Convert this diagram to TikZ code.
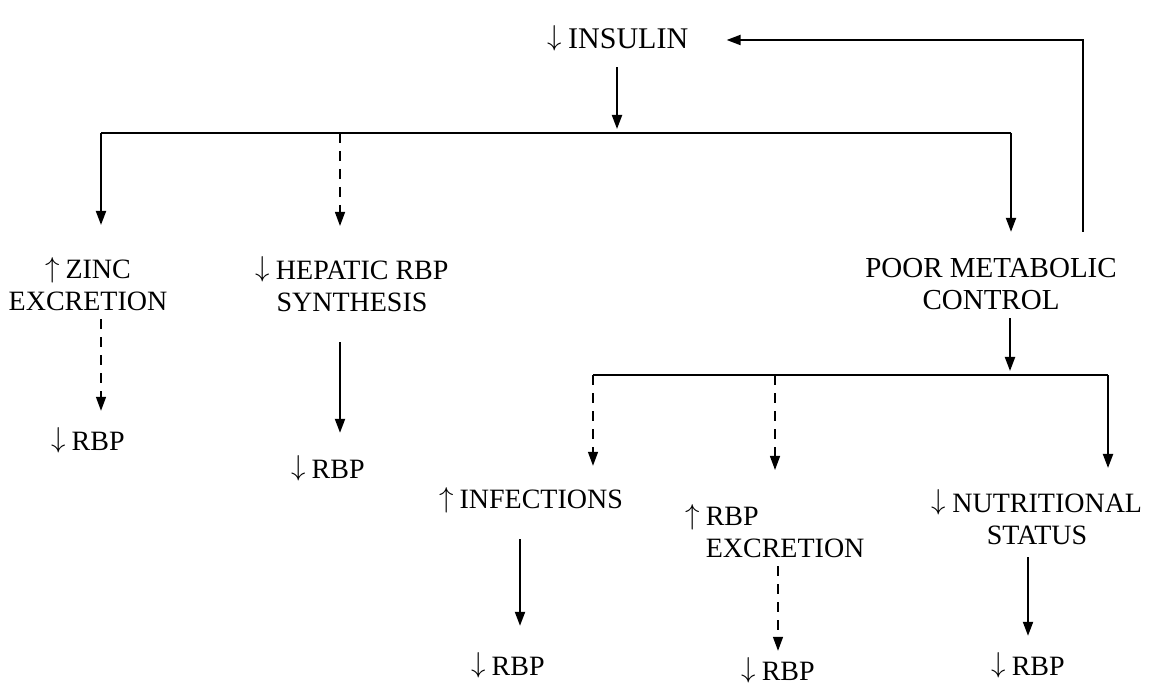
\documentclass[tikz,border=0pt]{standalone}
\usepackage{fontspec}
\setmainfont{Liberation Serif}
\usetikzlibrary{arrows.meta, positioning, calc}
\newcommand{\dnarr}{\raisebox{1.5pt}{\fontsize{14}{14}\selectfont$\downarrow$}\hspace{3pt}}
\newcommand{\uparr}{\raisebox{0.5pt}{\fontsize{14}{14}\selectfont$\uparrow$}\hspace{3pt}}

\begin{document}
\begin{tikzpicture}[
    x=0.5pt, y=-0.5pt,
    txt/.style={text centered, align=center, inner sep=1pt, font=\fontsize{14}{16}\selectfont},
    arrow/.style={line width=1pt, -{Triangle[length=7pt,width=5pt]}},
    dasharrow/.style={arrow, line width=0.7pt, dash pattern=on 5pt off 4pt},
    bar/.style={line width=1pt}
]
\useasboundingbox (0,0) rectangle (1159,694);

% Top level
\node (insulin) [txt, font=\fontsize{15}{17}\selectfont] at (618,38) {\dnarr INSULIN};
\node (zinc) [txt] at (88,284) {\uparr ZINC\\EXCRETION};
\node (hepatic) [txt] at (352,284) {\dnarr HEPATIC RBP\\SYNTHESIS};
\node (poor) [txt, font=\fontsize{14.5}{16}\selectfont] at (991,284) {POOR METABOLIC\\CONTROL};

% Lower level
\node (rbpA) [txt] at (88,440) {\dnarr RBP};
\node (rbpB) [txt] at (328,468) {\dnarr RBP};
\node (infect) [txt] at (531,500) {\uparr INFECTIONS};
\node (rbpexc) [txt, align=left, anchor=west] at (683,531) {\uparr RBP\\\hphantom{\uparr}EXCRETION};
\node (nutri) [txt] at (1037,517) {\dnarr NUTRITIONAL\\STATUS};
\node (rbpC) [txt] at (508,665) {\dnarr RBP};
\node (rbpD) [txt] at (778,670) {\dnarr RBP};
\node (rbpE) [txt] at (1028,665) {\dnarr RBP};

% Branch points
\coordinate (split1) at (617,133);
\coordinate (b1) at (101,133);
\coordinate (b2) at (340,133);
\coordinate (b3) at (1011,133);
\coordinate (fbtop) at (1083,40);
\coordinate (split2) at (1010,375);
\coordinate (c1) at (593,375);
\coordinate (c2) at (775,375);
\coordinate (c3) at (1108,375);
\coordinate (d1) at (520,600);

% Arrows from insulin
\draw [arrow, shorten <=7pt, shorten >=2pt] (insulin.south -| split1) -- (split1);
\draw [bar] (b1) -- (b3);
\draw [arrow, shorten >=15pt] (b1) -- (b1 |- zinc.north);
\draw [dasharrow, shorten >=14pt] (b2) -- (b2 |- hepatic.north);
\draw [arrow, shorten >=12pt] (b3) -- (b3 |- poor.north);

% Feedback
\draw [arrow, shorten <=12pt, shorten >=18pt] (poor.north -| fbtop) -- (fbtop) -- (fbtop -| insulin.east);

% Left branches
\draw [dasharrow, shorten <=3pt, shorten >=7pt] (zinc.south -| b1) -- (rbpA.north -| b1);
\draw [arrow, shorten <=14pt, shorten >=10pt] (hepatic.south -| b2) -- (rbpB.north -| b2);

% Arrows from poor metabolic control
\draw [arrow, shorten <=3pt, shorten >=2pt] (poor.south -| split2) -- (split2);
\draw [bar] (c1) -- (c3);
\draw [dasharrow, shorten >=9.5pt] (c1) -- (c1 |- infect.north);
\draw [dasharrow, shorten >=16pt] (c2) -- (c2 |- rbpexc.north);
\draw [arrow, shorten >=9.5pt] (c3) -- (c3 |- nutri.north);

% To RBP
\draw [arrow, shorten <=12pt, shorten >=12pt] (infect.south -| d1) -- (rbpC.north -| d1);
\draw [dasharrow, shorten <=3pt, shorten >=2pt] (rbpexc.south -| rbpD) -- (rbpD.north);
\draw [arrow, shorten <=5pt, shorten >=7pt] (nutri.south -| rbpE) -- (rbpE.north);

\end{tikzpicture}
\end{document}
